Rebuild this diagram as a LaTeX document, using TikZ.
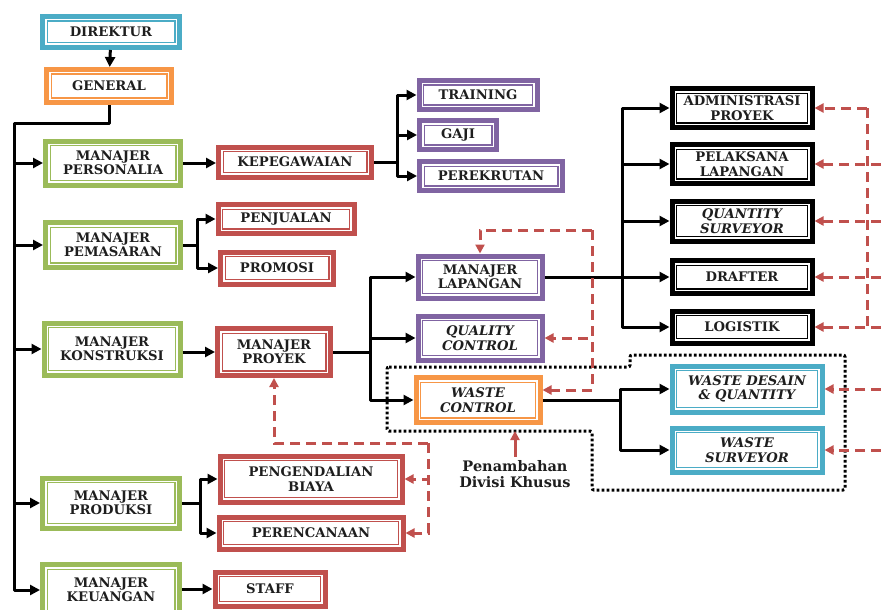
\documentclass[tikz,border=0pt]{standalone}
\usepackage{fontspec}
\setmainfont{DejaVu Serif}
\definecolor{boxCyan}{RGB}{75, 172, 198}
\definecolor{boxOrange}{RGB}{247, 150, 70}
\definecolor{boxGreen}{RGB}{155, 187, 89}
\definecolor{boxRed}{RGB}{192, 80, 77}
\definecolor{boxPurple}{RGB}{128, 100, 162}
\definecolor{textDark}{RGB}{30, 30, 30}
\usepackage{tikz}
\usetikzlibrary{arrows.meta, positioning, calc}
\newcommand{\boxfont}{\fontsize{13.2}{14.5}\selectfont\bfseries}
\newcommand{\divfont}{\fontsize{14.5}{16.5}\selectfont\bfseries}

\begin{document}
\begin{tikzpicture}[x=1pt, y=-1pt,
    orgbox/.style={draw=#1, line width=5pt, fill=white, align=center,
      font=\boxfont, text=textDark, inner sep=2pt,
      path picture={\draw[#1, line width=1.2pt]
        ([shift={(4.6pt,-4.6pt)}]path picture bounding box.north west) rectangle
        ([shift={(-4.6pt,4.6pt)}]path picture bounding box.south east);}},
    link/.style={line width=3pt, line join=round},
    arr/.style={link, -{Triangle[length=10pt,width=10pt]}},
    back/.style={draw=boxRed, line width=3pt, dash pattern=on 10pt off 6pt,
      -{Triangle[length=9pt,width=9pt]}},
    zone/.style={draw=black, line width=3pt, dash pattern=on 2.7pt off 2.3pt,
      rounded corners=2pt}]
  \useasboundingbox (0,0) rectangle (881,610);

  % Top
  \node[orgbox=boxCyan, minimum width=137pt, minimum height=31pt] (direktur) at (111,32) {DIREKTUR};
  \node[orgbox=boxOrange, minimum width=125pt, minimum height=33pt] (general) at (109,86) {GENERAL};

  % Managers
  \node[orgbox=boxGreen, minimum width=135pt, minimum height=44pt] (personalia) at (113,163) {MANAJER\\PERSONALIA};
  \node[orgbox=boxGreen, minimum width=135pt, minimum height=45pt] (pemasaran) at (113,245) {MANAJER\\PEMASARAN};
  \node[orgbox=boxGreen, minimum width=136pt, minimum height=52pt] (konstruksi) at (112,349) {MANAJER\\KONSTRUKSI};
  \node[orgbox=boxGreen, minimum width=137pt, minimum height=50pt] (produksi) at (111,503) {MANAJER\\PRODUKSI};
  \node[orgbox=boxGreen, minimum width=137pt, minimum height=51pt] (keuangan) at (111,590) {MANAJER\\KEUANGAN};

  % Second level
  \node[orgbox=boxRed, minimum width=153pt, minimum height=30pt] (kepegawaian) at (295,162) {KEPEGAWAIAN};
  \node[orgbox=boxRed, minimum width=136pt, minimum height=29pt] (penjualan) at (286,219) {PENJUALAN};
  \node[orgbox=boxRed, minimum width=113pt, minimum height=32pt] (promosi) at (277,268) {PROMOSI};
  \node[orgbox=boxRed, minimum width=113pt, minimum height=47pt] (proyek) at (274,352) {MANAJER\\PROYEK};
  \node[orgbox=boxRed, minimum width=182pt, minimum height=46pt] (pengendalian) at (311,479) {PENGENDALIAN\\BIAYA};
  \node[orgbox=boxRed, minimum width=184pt, minimum height=32pt] (perencanaan) at (311,533) {PERENCANAAN};
  \node[orgbox=boxRed, minimum width=110pt, minimum height=34pt] (staff) at (270,589) {STAFF};

  % Third level
  \node[orgbox=boxPurple, minimum width=118pt, minimum height=29pt] (training) at (478,95) {TRAINING};
  \node[orgbox=boxPurple, minimum width=77pt, minimum height=29pt] (gaji) at (458,135) {GAJI};
  \node[orgbox=boxPurple, minimum width=143pt, minimum height=29pt] (perekrutan) at (491,176) {PEREKRUTAN};
  \node[orgbox=boxPurple, minimum width=124pt, minimum height=42pt] (lapangan) at (480,277) {MANAJER\\LAPANGAN};
  \node[orgbox=boxPurple, minimum width=124pt, minimum height=44pt] (quality) at (480,338) {\itshape QUALITY\\\itshape CONTROL};
  \node[orgbox=boxOrange, minimum width=124pt, minimum height=45pt] (wastectrl) at (478,400) {\itshape WASTE\\\itshape CONTROL};

  % Field staff
  \node[orgbox=black, minimum width=140pt, minimum height=39pt] (admin) at (742,108) {ADMINISTRASI\\PROYEK};
  \node[orgbox=black, minimum width=140pt, minimum height=39pt] (pelaksana) at (742,164) {PELAKSANA\\LAPANGAN};
  \node[orgbox=black, minimum width=140pt, minimum height=40pt] (surveyor) at (742,221) {\itshape QUANTITY\\\itshape SURVEYOR};
  \node[orgbox=black, minimum width=140pt, minimum height=33pt] (drafter) at (742,277) {DRAFTER};
  \node[orgbox=black, minimum width=140pt, minimum height=32pt] (logistik) at (742,327) {LOGISTIK};
  \node[orgbox=boxCyan, minimum width=150pt, minimum height=46pt] (wdesain) at (747,389) {\itshape WASTE DESAIN\\\itshape \& QUANTITY};
  \node[orgbox=boxCyan, minimum width=150pt, minimum height=44pt] (wsurveyor) at (747,450) {\itshape WASTE\\\itshape SURVEYOR};

  % Special division
  \draw[zone] (387,367) -- (630,367) -- (630,355) -- (845,355) -- (845,490)
    -- (592,490) -- (592,431) -- (387,431) -- cycle;
  \node[font=\divfont, text=textDark, align=center] (divisi) at (515,474) {Penambahan\\Divisi Khusus};
  \coordinate (zonebottom) at (515,431);
  \draw[boxRed, line width=3pt, -{Triangle[length=9pt,width=9pt]}] (divisi.north) -- (zonebottom);

  % Solid links
  \coordinate (trunk) at (14,123);
  \draw[arr] (direktur) -- (general);
  \draw[arr] (general.south) |- (trunk) |- (keuangan.west);
  \foreach \m in {personalia, pemasaran, konstruksi, produksi}
    \draw[arr] (trunk |- \m.west) -- (\m.west);

  \draw[arr] (personalia.east) -- (personalia.east -| kepegawaian.west);
  \coordinate (kfork) at (397,162);
  \draw[link] (kepegawaian.east) -- (kfork);
  \foreach \t in {training, gaji, perekrutan}
    \draw[arr] (kfork) |- (\t.west);

  \coordinate (pfork) at (197,245);
  \draw[link] (pemasaran.east) -- (pfork);
  \foreach \t in {penjualan, promosi}
    \draw[arr] (pfork) |- (\t.west);

  \draw[arr] (konstruksi.east |- proyek.west) -- (proyek.west);
  \coordinate (mfork) at (370,352);
  \draw[link] (proyek.east) -- (mfork);
  \foreach \t in {lapangan, quality, wastectrl}
    \draw[arr] (mfork) |- (\t.west);

  \coordinate (lfork) at (622,277);
  \draw[link] (lapangan.east) -- (lfork);
  \foreach \t in {admin, pelaksana, surveyor, drafter, logistik}
    \draw[arr] (lfork) |- (\t.west);

  \coordinate (wfork) at (620,400);
  \draw[link] (wastectrl.east) -- (wfork);
  \foreach \t in {wdesain, wsurveyor}
    \draw[arr] (wfork) |- (\t.west);

  \coordinate (prfork) at (200,503);
  \draw[link] (produksi.east) -- (prfork);
  \foreach \t in {pengendalian, perencanaan}
    \draw[arr] (prfork) |- (\t.west);

  \draw[arr] (keuangan.east |- staff.west) -- (staff.west);

  % Dashed feedback
  \coordinate (lapback) at (592,230);
  \draw[back] (lapback) -| (lapangan.north);
  \draw[back] (lapback) |- (quality.east);
  \draw[back] (lapback) |- ([yshift=10pt]wastectrl.east);

  \coordinate (costback) at (428,443);
  \draw[back] (costback) -| (proyek.south);
  \draw[back] (costback) |- (pengendalian.east);
  \draw[back] (costback) |- (perencanaan.east);

  \coordinate (rback) at (867,108);
  \coordinate (redge) at (881,0);
  \draw[back, -] (rback) -- (rback |- logistik.east);
  \draw[back] (rback) -- (admin.east);
  \foreach \t in {pelaksana, surveyor, drafter, logistik, wdesain, wsurveyor}
    \draw[back] (redge |- \t.east) -- (\t.east);
\end{tikzpicture}
\end{document}
